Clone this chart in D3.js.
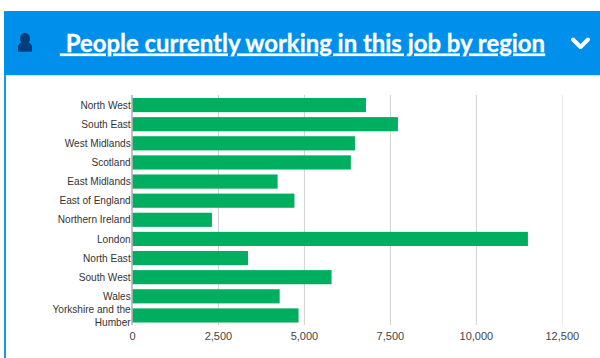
<!DOCTYPE html>
<html>
<head>
<meta charset="utf-8">
<script src="https://cdn.jsdelivr.net/npm/d3@7"></script>
<style>
html,body{margin:0;padding:0;background:#fff;overflow:hidden}
svg{display:block}
</style>
</head>
<body>
<svg id="chart" width="600" height="358"></svg>
<script>
// Regional employment figures
const regions = ["North West","South East","West Midlands","Scotland","East Midlands","East of England","Northern Ireland","London","North East","South West","Wales","Yorkshire and the Humber"];
const workers = [6790,7720,6470,6350,4220,4710,2310,11500,3360,5790,4280,4830];
const xTicks = [0,2500,5000,7500,10000,12500];
const heading = "People currently working in this job by region";

const svg = d3.select("#chart");

// Panel frame and header band
svg.append("rect").attr("x",4).attr("y",11).attr("width",2).attr("height",347).attr("fill","#1a96f0");
svg.append("path").attr("d","M4 14a3 3 0 0 1 3-3H600V75H4Z").attr("fill","#0090ec");
svg.append("rect").attr("x",6).attr("y",75).attr("width",594).attr("height",1).attr("fill","#cfe6f7");

// Person icon
const icon = svg.append("g").attr("fill","#003f7d");
icon.append("ellipse").attr("cx",25).attr("cy",38.5).attr("rx",5).attr("ry",5.8);
icon.append("path").attr("d","M18 51v-3.5c0-3.2 2.2-5.2 5-5.2h4c2.8 0 5 2 5 5.2V51a.8.8 0 0 1-.8.8H18.8a.8.8 0 0 1-.8-.8Z");

// Underlined heading
svg.append("text").attr("x",60).attr("y",51.6)
  .style("font-family","Lato, 'Open Sans', sans-serif").style("font-weight",700).style("font-size","23.9px")
  .attr("fill","#fff").attr("stroke","#fff").attr("stroke-width",0.3).attr("text-decoration","underline")
  .text("\u00a0"+heading);

// Chevron
svg.append("path").attr("d","M573 39.5l7.5 7.5 7.5-7.5").attr("fill","none").attr("stroke","#fff").attr("stroke-width",4).attr("stroke-linecap","round").attr("stroke-linejoin","round");

// Scales
const x = d3.scaleLinear().domain([0,12500]).range([132.5,562.3]);
const y = d3.scaleBand().domain(regions).range([95.5,325]).paddingInner(0.26).paddingOuter(0.13);

const font = "Arial, 'Liberation Sans', sans-serif";

// Vertical gridlines, lighter at the far end
const grid = svg.append("g");
grid.selectAll("line").data(xTicks.slice(1)).join("line")
  .attr("x1",d=>x(d)).attr("x2",d=>x(d)).attr("y1",95).attr("y2",325)
  .attr("stroke",d=>d===12500?"#e6e6e6":"#d0d0d0").attr("stroke-width",1);

// Bars
svg.append("g").selectAll("rect").data(regions).join("rect")
  .attr("x",x(0)).attr("y",d=>y(d)).attr("height",y.bandwidth())
  .attr("width",(d,i)=>x(workers[i])-x(0))
  .attr("fill","#00ae60");

// Baseline
svg.append("line").attr("x1",132).attr("x2",132).attr("y1",95).attr("y2",325).attr("stroke","#9a9a9a").attr("stroke-width",1.2);

// X axis labels via d3 axis
const xAxis = d3.axisBottom(x).tickValues(xTicks).tickFormat(d3.format(",")).tickSize(0).tickPadding(0);
const gx = svg.append("g").attr("transform","translate(-0.5,332)").call(xAxis);
gx.select(".domain").remove();
gx.selectAll("text").style("font-family",font).style("font-size","11px").attr("fill","#444").attr("dy","0.71em").attr("y",0);

// Region labels, wrapping the long one onto two lines
const labels = svg.append("g").selectAll("text").data(regions).join("text")
  .attr("text-anchor","end").style("font-family",font).style("font-size","10.1px").attr("fill","#333");
labels.each(function(d){
  const t = d3.select(this), cy = y(d)+y.bandwidth()/2;
  if(d.length>20){
    const cut = d.lastIndexOf(" ");
    t.append("tspan").attr("x",130.7).attr("y",cy-2).text(d.slice(0,cut));
    t.append("tspan").attr("x",130.7).attr("y",cy+11).text(d.slice(cut+1));
  } else {
    t.append("tspan").attr("x",130.7).attr("y",cy+3.6).text(d);
  }
});
</script>
</body>
</html>
